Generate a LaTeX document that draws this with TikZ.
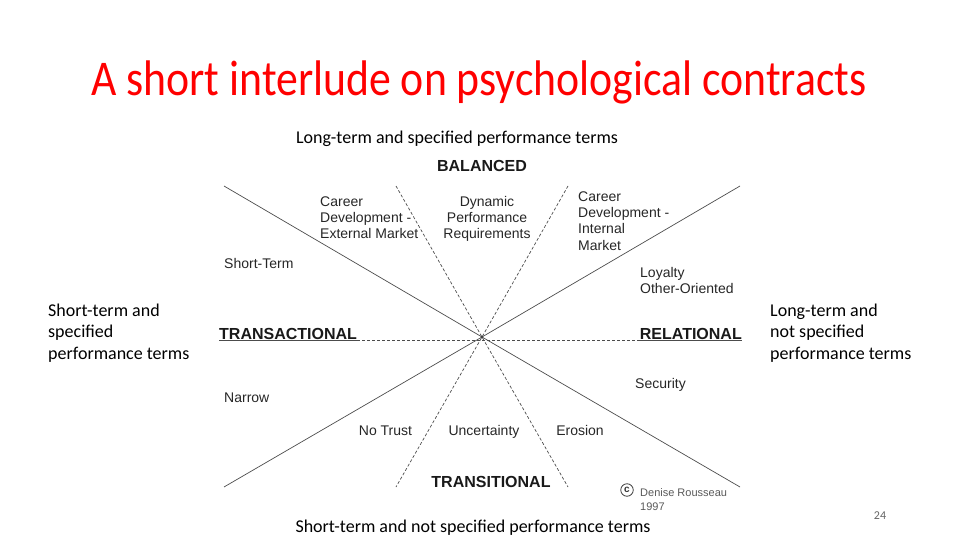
\documentclass[tikz,border=0pt]{standalone}
\usepackage{fontspec}
\setmainfont{Carlito}
\newfontfamily\arialf{Liberation Sans}
\begin{document}
\begin{tikzpicture}[x=1pt,y=-1pt,
  diag/.style={font=\arialf\fontsize{14}{16}\selectfont, inner sep=0, align=left, text=black!85},
  head/.style={font=\arialf\bfseries\fontsize{16}{18}\selectfont, inner sep=0, text=black!90},
  cal/.style={font=\fontsize{18}{21.5}\selectfont, inner sep=0, align=left},
  ray/.style={draw=black!70, line width=0.7pt},
  dray/.style={ray, dash pattern=on 3pt off 2pt}]
\useasboundingbox (0,0) rectangle (960,540);

% title
\node[font=\fontsize{50}{54}\selectfont, text=red, anchor=base, inner sep=0] (title) at (479,96) {\scalebox{0.875}[1]{A short interlude on psychological contracts}};

% outer captions
\node[cal, anchor=base] (top) at (457,144) {Long-term and specified performance terms};
\node[cal, anchor=base] (bottom) at (473,532) {Short-term and not specified performance terms};
\node[cal, anchor=base west] (left) at (48,359) {Short-term and\\specified\\performance terms};
\node[cal, anchor=base west] (right) at (770,359) {Long-term and\\not specified\\performance terms};
\node[font=\fontsize{12}{14}\selectfont, text=black!60, anchor=base, inner sep=0] (page) at (880,519) {24};

% rays
\coordinate (c) at (482,337);
\coordinate (tl) at (224,186); \coordinate (br) at (740,487);
\coordinate (tr) at (740,186); \coordinate (bl) at (224,487);
\coordinate (dtl) at (396,186); \coordinate (dbr) at (568,487);
\coordinate (dtr) at (568,186); \coordinate (dbl) at (396,487);
\draw[ray] (tl) -- (c) -- (br);
\draw[ray] (tr) -- (c) -- (bl);
\draw[dray] (dtl) -- (c) -- (dbr);
\draw[dray] (dtr) -- (c) -- (dbl);
\fill[black!80] (c) circle (1.2);

% headings
\node[head, anchor=base] (bal) at (482,171.5) {BALANCED};
\node[head, anchor=base] (tsn) at (491,487) {TRANSITIONAL};
\node[head, anchor=base west] (trans) at (219,339.5) {TRANSACTIONAL};
\node[head, anchor=base east] (rel) at (742,339.5) {RELATIONAL};
\draw[ray, line width=0.6pt] ([yshift=-1.2]trans.base west) -- ([yshift=-1.2]trans.base east);
\draw[ray, line width=0.6pt] ([yshift=-1.2]rel.base west) -- ([yshift=-1.2]rel.base east);
\draw[dray, line width=0.6pt] ([yshift=-1.2]trans.base east) -- ([yshift=-1.2]rel.base west);

% sector labels
\node[diag, anchor=base west] (cde) at (320,238) {Career\\Development -\\External Market};
\node[diag, anchor=base, align=center] (dpr) at (487,238) {Dynamic\\Performance\\Requirements};
\node[diag, anchor=base west, font=\arialf\fontsize{14}{16.3}\selectfont] (cdi) at (578,250) {Career\\Development -\\Internal\\Market};
\node[diag, anchor=base west] (st) at (224,268) {Short-Term};
\node[diag, anchor=base west] (loy) at (640,293) {Loyalty\\Other-Oriented};
\node[diag, anchor=base west] (sec) at (635,388) {Security};
\node[diag, anchor=base west] (nar) at (224,402) {Narrow};
\node[diag, anchor=base] (ntr) at (385.5,435) {No Trust};
\node[diag, anchor=base] (unc) at (484,435) {Uncertainty};
\node[diag, anchor=base] (ero) at (580,435) {Erosion};

% copyright
\node[draw=black!75, circle, minimum size=12.5pt, inner sep=0pt, line width=0.8pt, font=\arialf\bfseries\fontsize{10}{11}\selectfont, text=black!80] (copy) at (627,490) {c};
\node[diag, anchor=base west, font=\arialf\fontsize{11}{14}\selectfont, text=black!65] (den) at (640,510) {Denise Rousseau\\1997};
\end{tikzpicture}
\end{document}
